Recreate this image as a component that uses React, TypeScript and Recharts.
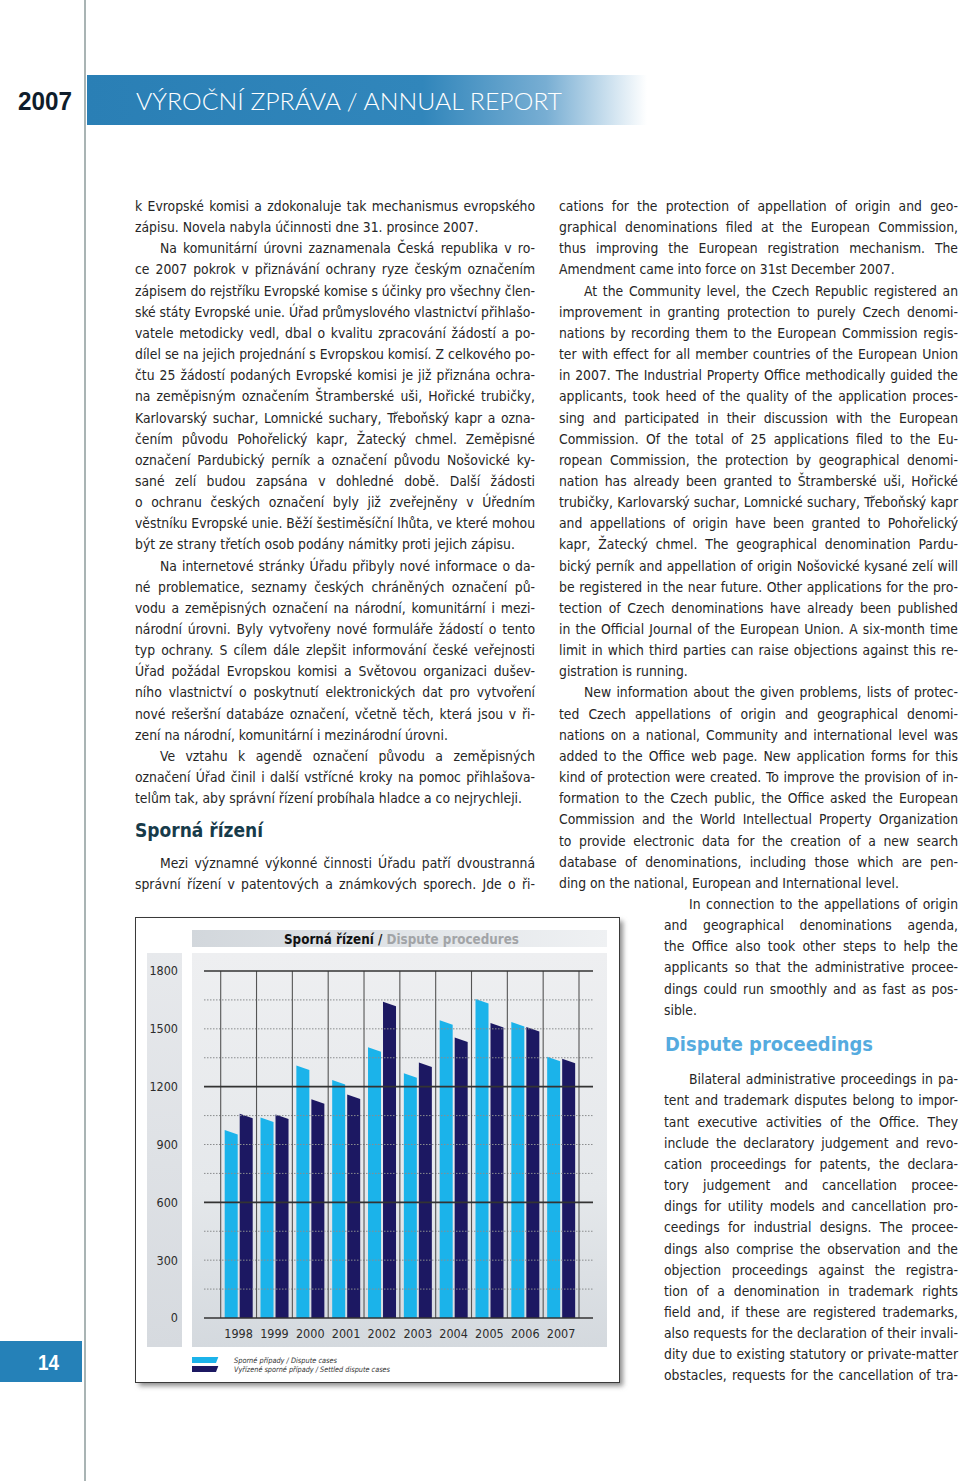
import { BarChart, Bar, XAxis, YAxis, ReferenceLine, Legend } from 'recharts'

// chart data
const years = ['1998', '1999', '2000', '2001', '2002', '2003', '2004', '2005', '2006', '2007']
const disputeCases = [975, 1040, 1310, 1235, 1405, 1270, 1545, 1655, 1535, 1355]
const settledCases = [1060, 1055, 1135, 1160, 1640, 1325, 1455, 1530, 1510, 1345]
const yTicks = [0, 300, 600, 900, 1200, 1500, 1800]
const solidLines = [0, 600, 1200, 1800]
const dottedLines = [150, 300, 450, 750, 900, 1050, 1350, 1500, 1650]
const seriesNames = ['Sporné případy / Dispute cases', 'Vyřízené sporné případy / Settled dispute cases']

const data = years.map((year, i) => ({
  year,
  dispute: disputeCases[i],
  settled: settledCases[i],
}))

// page text
interface Para {
  lines: string[]
  indent?: boolean
  cont?: boolean
}

const leftParas: Para[] = [
  {
    lines: [
      'k Evropské komisi a zdokonaluje tak mechanismus evropského',
      'zápisu. Novela nabyla účinnosti dne 31. prosince 2007.',
    ],
  },
  {
    indent: true,
    lines: [
      'Na komunitární úrovni zaznamenala Česká republika v ro-',
      'ce 2007 pokrok v přiznávání ochrany ryze českým označením',
      'zápisem do rejstříku Evropské komise s účinky pro všechny člen-',
      'ské státy Evropské unie. Úřad průmyslového vlastnictví přihlašo-',
      'vatele metodicky vedl, dbal o kvalitu zpracování žádostí a po-',
      'dílel se na jejich projednání s Evropskou komisí. Z celkového po-',
      'čtu 25 žádostí podaných Evropské komisi je již přiznána ochra-',
      'na zeměpisným označením Štramberské uši, Hořické trubičky,',
      'Karlovarský suchar, Lomnické suchary, Třeboňský kapr a ozna-',
      'čením původu Pohořelický kapr, Žatecký chmel. Zeměpisné',
      'označení Pardubický perník a označení původu Nošovické ky-',
      'sané zelí budou zapsána v dohledné době. Další žádosti',
      'o ochranu českých označení byly již zveřejněny v Úředním',
      'věstníku Evropské unie. Běží šestiměsíční lhůta, ve které mohou',
      'být ze strany třetích osob podány námitky proti jejich zápisu.',
    ],
  },
  {
    indent: true,
    lines: [
      'Na internetové stránky Úřadu přibyly nové informace o da-',
      'né problematice, seznamy českých chráněných označení pů-',
      'vodu a zeměpisných označení na národní, komunitární i mezi-',
      'národní úrovni. Byly vytvořeny nové formuláře žádostí o tento',
      'typ ochrany. S cílem dále zlepšit informování české veřejnosti',
      'Úřad požádal Evropskou komisi a Světovou organizaci dušev-',
      'ního vlastnictví o poskytnutí elektronických dat pro vytvoření',
      'nové rešeršní databáze označení, včetně těch, která jsou v ři-',
      'zení na národní, komunitární i mezinárodní úrovni.',
    ],
  },
  {
    indent: true,
    lines: [
      'Ve vztahu k agendě označení původu a zeměpisných',
      'označení Úřad činil i další vstřícné kroky na pomoc přihlašova-',
      'telům tak, aby správní řízení probíhala hladce a co nejrychleji.',
    ],
  },
]

const leftParas2: Para[] = [
  {
    indent: true,
    cont: true,
    lines: [
      'Mezi významné výkonné činnosti Úřadu patří dvoustranná',
      'správní řízení v patentových a známkových sporech. Jde o ři-',
    ],
  },
]

const rightParas: Para[] = [
  {
    lines: [
      'cations for the protection of appellation of origin and geo-',
      'graphical denominations filed at the European Commission,',
      'thus improving the European registration mechanism. The',
      'Amendment came into force on 31st December 2007.',
    ],
  },
  {
    indent: true,
    lines: [
      'At the Community level, the Czech Republic registered an',
      'improvement in granting protection to purely Czech denomi-',
      'nations by recording them to the European Commission regis-',
      'ter with effect for all member countries of the European Union',
      'in 2007. The Industrial Property Office methodically guided the',
      'applicants, took heed of the quality of the application proces-',
      'sing and participated in their discussion with the European',
      'Commission. Of the total of 25 applications filed to the Eu-',
      'ropean Commission, the protection by geographical denomi-',
      'nation has already been granted to Štramberské uši, Hořické',
      'trubičky, Karlovarský suchar, Lomnické suchary, Třeboňský kapr',
      'and appellations of origin have been granted to Pohořelický',
      'kapr, Žatecký chmel. The geographical denomination Pardu-',
      'bický perník and appellation of origin Nošovické kysané zelí will',
      'be registered in the near future. Other applications for the pro-',
      'tection of Czech denominations have already been published',
      'in the Official Journal of the European Union. A six-month time',
      'limit in which third parties can raise objections against this re-',
      'gistration is running.',
    ],
  },
  {
    indent: true,
    lines: [
      'New information about the given problems, lists of protec-',
      'ted Czech appellations of origin and geographical denomi-',
      'nations on a national, Community and international level was',
      'added to the Office web page. New application forms for this',
      'kind of protection were created. To improve the provision of in-',
      'formation to the Czech public, the Office asked the European',
      'Commission and the World Intellectual Property Organization',
      'to provide electronic data for the creation of a new search',
      'database of denominations, including those which are pen-',
      'ding on the national, European and International level.',
    ],
  },
]

const narrowParas: Para[] = [
  {
    indent: true,
    lines: [
      'In connection to the appellations of origin',
      'and geographical denominations agenda,',
      'the Office also took other steps to help the',
      'applicants so that the administrative procee-',
      'dings could run smoothly and as fast as pos-',
      'sible.',
    ],
  },
]

const narrowParas2: Para[] = [
  {
    indent: true,
    cont: true,
    lines: [
      'Bilateral administrative proceedings in pa-',
      'tent and trademark disputes belong to impor-',
      'tant executive activities of the Office. They',
      'include the declaratory judgement and revo-',
      'cation proceedings for patents, the declara-',
      'tory judgement and cancellation procee-',
      'dings for utility models and cancellation pro-',
      'ceedings for industrial designs. The procee-',
      'dings also comprise the observation and the',
      'objection proceedings against the registra-',
      'tion of a denomination in trademark rights',
      'field and, if these are registered trademarks,',
      'also requests for the declaration of their invali-',
      'dity due to existing statutory or private-matter',
      'obstacles, requests for the cancellation of tra-',
    ],
  },
]

const bodyFont = '"DejaVu Sans Condensed", "DejaVu Sans", sans-serif'
const bodySize = 13.8
const LH = 21.15

let measureCtx: CanvasRenderingContext2D | null = null
function measure(s: string) {
  if (!measureCtx) {
    measureCtx = document.createElement('canvas').getContext('2d')
    if (measureCtx) measureCtx.font = `${bodySize}px ${bodyFont}`
  }
  return measureCtx ? measureCtx.measureText(s).width : s.length * 6.5
}

function TextBlock({ x, width, y0, paras }: { x: number; width: number; y0: number; paras: Para[] }) {
  const out: JSX.Element[] = []
  let i = 0
  paras.forEach((p, pi) => {
    p.lines.forEach((ln, li) => {
      const ind = p.indent && li === 0 ? 25 : 0
      const justify = li < p.lines.length - 1 || p.cont
      let ws = 0
      if (justify) {
        const spaces = (ln.match(/ /g) || []).length
        const extra = width - ind - measure(ln)
        if (spaces > 0 && extra > 0) ws = extra / spaces
      }
      out.push(
        <text
          key={`${pi}-${li}`}
          x={x + ind}
          y={y0 + i * LH}
          style={ws ? { wordSpacing: `${ws}px` } : undefined}
          textLength={justify ? width - ind : undefined}
          lengthAdjust="spacing"
        >
          {ln}
        </text>
      )
      i++
    })
  })
  return <g fontFamily={bodyFont} fontSize={bodySize} fill="#262626">{out}</g>
}

const SlantBar = (props: any) => {
  const { x, y, width, height, fill } = props
  if (!height || height <= 0) return null
  const drop = 4.5
  return (
    <path
      d={`M${x},${y} L${x + width},${y + drop} L${x + width},${y + height} L${x},${y + height} Z`}
      fill={fill}
    />
  )
}

const renderLegend = (props: any) => {
  const { payload } = props
  const widths = [103, 156]
  return (
    <svg width={220} height={20} style={{ display: 'block' }}>
      {(payload || []).map((item: any, i: number) => {
        const top = 1 + i * 9
        return (
          <g key={i}>
            <polygon points={`0,${top} 26.3,${top} 24,${top + 6} 0,${top + 6}`} fill={item.color} />
            <text
              x={42}
              y={top + 5.5}
              fontSize={7.5}
              fontStyle="italic"
              fontFamily={bodyFont}
              fill="#333"
              textLength={widths[i]}
              lengthAdjust="spacingAndGlyphs"
            >
              {item.value}
            </text>
          </g>
        )
      })}
    </svg>
  )
}

export default function App() {
  return (
    <div style={{ position: 'absolute', left: 0, top: 0, width: 960, height: 1481, background: '#fff', overflow: 'hidden' }}>
      <svg width={960} height={1481} style={{ position: 'absolute', left: 0, top: 0 }}>
        <defs>
          <linearGradient id="hdr" x1="0" y1="0" x2="1" y2="0">
            <stop offset="0" stopColor="#2a7fb5" />
            <stop offset="0.6" stopColor="#3186bb" />
            <stop offset="0.82" stopColor="#78aed3" />
            <stop offset="1" stopColor="#ffffff" />
          </linearGradient>
          <linearGradient id="titleBar" x1="0" y1="0" x2="1" y2="0">
            <stop offset="0" stopColor="#d2d7dc" />
            <stop offset="1" stopColor="#eff1f3" />
          </linearGradient>
          <linearGradient id="panel" x1="0" y1="0" x2="0" y2="1">
            <stop offset="0" stopColor="#eeeff1" />
            <stop offset="0.6" stopColor="#e5e8eb" />
            <stop offset="1" stopColor="#d4d9de" />
          </linearGradient>
          <linearGradient id="ypanel" x1="0" y1="0" x2="0" y2="1">
            <stop offset="0" stopColor="#e7e9ec" />
            <stop offset="1" stopColor="#d6dadf" />
          </linearGradient>
          <filter id="blur" x="-10%" y="-10%" width="120%" height="120%">
            <feGaussianBlur stdDeviation="2.5" />
          </filter>
        </defs>

        {/* header */}
        <rect x={87} y={75} width={560} height={50} fill="url(#hdr)" />
        <text x={18} y={110} fontFamily='"Liberation Sans", Arial, sans-serif' fontWeight="bold" fontSize={25} fill="#0f1d2b" textLength={54} lengthAdjust="spacingAndGlyphs">2007</text>
        <text x={136} y={110} fontFamily='Lato, "DejaVu Sans", sans-serif' fontWeight={300} fontSize={24} fill="#ffffff" textLength={426} lengthAdjust="spacingAndGlyphs">VÝROČNÍ ZPRÁVA / ANNUAL REPORT</text>

        {/* margin line and page number */}
        <line x1={85} y1={0} x2={85} y2={1481} stroke="#8d9b9b" strokeWidth={1.5} />
        <rect x={0} y={1341} width={82} height={41} fill="#2581b8" />
        <text x={38} y={1370} fontFamily='"Liberation Sans", Arial, sans-serif' fontWeight="bold" fontSize={22} fill="#ffffff" textLength={21} lengthAdjust="spacingAndGlyphs">14</text>

        {/* body text */}
        <TextBlock x={135} width={400} y0={211} paras={leftParas} />
        <text x={135} y={836.5} fontFamily={bodyFont} fontWeight="bold" fontSize={20} fill="#173b4a" textLength={128} lengthAdjust="spacingAndGlyphs">Sporná řízení</text>
        <TextBlock x={135} width={400} y0={868} paras={leftParas2} />

        <TextBlock x={559} width={399} y0={211} paras={rightParas} />
        <TextBlock x={664} width={294} y0={211 + 33 * LH} paras={narrowParas} />
        <text x={665} y={1050.5} fontFamily={bodyFont} fontWeight="bold" fontSize={20} fill="#55abdf" textLength={208} lengthAdjust="spacingAndGlyphs">Dispute proceedings</text>
        <TextBlock x={664} width={294} y0={1084.3} paras={narrowParas2} />

        {/* chart frame */}
        <rect x={139} y={921} width={484} height={465} fill="#8e8e8e" filter="url(#blur)" />
        <rect x={135.5} y={917.5} width={484} height={465} fill="#ffffff" stroke="#3a3a3a" strokeWidth={1} />
        <rect x={192} y={930} width={415} height={17} fill="url(#titleBar)" />
        <rect x={147} y={953} width={35} height={394} fill="url(#ypanel)" />
        <rect x={192} y={953} width={415} height={394} fill="url(#panel)" />
        <text x={284} y={943.5} fontFamily={bodyFont} fontWeight="bold" fontSize={13.5} textLength={235} lengthAdjust="spacingAndGlyphs">
          <tspan fill="#111">Sporná řízení</tspan>
          <tspan fill="#222"> / </tspan>
          <tspan fill="#a2a4a7">Dispute procedures</tspan>
        </text>
      </svg>

      <div style={{ position: 'absolute', left: 135, top: 917 }}>
        <BarChart
          width={485}
          height={466}
          data={data}
          margin={{ top: 54, right: 27, bottom: 35, left: 43 }}
          barSize={13}
          barGap={2}
        >
          <XAxis
            dataKey="year"
            height={30}
            padding={{ left: 16.7, right: 14 }}
            axisLine={false}
            tickLine={false}
            tickSize={0}
            tickMargin={11}
            interval={0}
            tick={{ fontSize: 12.5, fill: '#2c2c2c', fontFamily: bodyFont }}
          />
          <YAxis
            width={26}
            domain={[0, 1800]}
            ticks={yTicks}
            axisLine={false}
            tickLine={false}
            tickSize={0}
            tickMargin={26}
            interval={0}
            tick={{ fontSize: 12.5, fill: '#2c2c2c', fontFamily: bodyFont }}
          />
          {dottedLines.map(v => (
            <ReferenceLine key={`d${v}`} y={v} stroke="#8a8c8e" strokeWidth={1} strokeDasharray="1.5 1.5" />
          ))}
          {years.map(yr => (
            <ReferenceLine key={`v${yr}`} x={yr} position="start" stroke="#555" strokeWidth={1.1} />
          ))}
          <ReferenceLine x="2007" position="end" stroke="#555" strokeWidth={1.1} />
          {solidLines.map(v => (
            <ReferenceLine key={`s${v}`} y={v} stroke="#333" strokeWidth={1.6} />
          ))}
          <Bar dataKey="dispute" name={seriesNames[0]} fill="#1bb3ea" shape={SlantBar} isAnimationActive={false} />
          <Bar dataKey="settled" name={seriesNames[1]} fill="#1c1862" shape={SlantBar} isAnimationActive={false} />
          <Legend
            layout="horizontal"
            verticalAlign="middle"
            align="center"
            wrapperStyle={{ left: 57, top: 439, width: 220, height: 20 }}
            content={renderLegend}
          />
        </BarChart>
      </div>
    </div>
  )
}
